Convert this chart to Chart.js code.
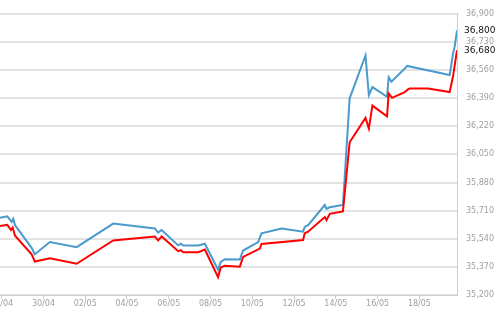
<!DOCTYPE html>
<html>
<head>
<meta charset="utf-8">
<script src="https://cdn.jsdelivr.net/npm/chart.js@4.4.1/dist/chart.umd.min.js"></script>
<style>
html,body{margin:0;padding:0;background:#fff;}
#wrap{width:500px;height:312px;}
</style>
</head>
<body>
<div id="wrap"><canvas id="c" width="500" height="312"></canvas></div>
<script>
// Day offsets counted from 28/04 (0 = 28/04 00:00)
const xTickDays = [0, 2, 4, 6, 8, 10, 12, 14, 16, 18, 20];
const xTickLabels = ['28/04', '30/04', '02/05', '04/05', '06/05', '08/05', '10/05', '12/05', '14/05', '16/05', '18/05'];
const yTickValues = [35200, 35370, 35540, 35710, 35880, 36050, 36220, 36390, 36560, 36730, 36900];

// Blue series (upper line)
const blueDays = [-0.08, 0.27, 0.48, 0.555, 0.64, 1.435, 1.59, 2.31, 3.59, 5.34, 7.335, 7.49, 7.66, 8.45, 8.58, 8.69, 9.41, 9.73, 10.36, 10.49, 10.68, 11.40, 11.56, 12.28, 12.44, 13.40, 14.43, 14.51, 14.67, 15.47, 15.55, 15.71, 16.34, 16.66, 17.42, 17.58, 17.75, 18.45, 18.53, 18.66, 19.30, 19.41, 21.45, 21.61, 21.69, 21.80];
const blueValues = [35667, 35676, 35642, 35661, 35622, 35485, 35446, 35520, 35489, 35632, 35602, 35577, 35593, 35500, 35510, 35499, 35499, 35510, 35353, 35400, 35416, 35414, 35469, 35520, 35573, 35602, 35583, 35612, 35622, 35744, 35720, 35730, 35744, 36389, 36648, 36408, 36457, 36398, 36516, 36490, 36569, 36585, 36530, 36660, 36703, 36800];

// Red series (lower line)
const redDays = [-0.08, 0.27, 0.445, 0.526, 0.64, 1.435, 1.59, 2.31, 3.59, 5.34, 7.335, 7.49, 7.66, 8.45, 8.58, 8.69, 9.41, 9.73, 10.36, 10.49, 10.68, 11.40, 11.56, 12.36, 12.44, 14.43, 14.51, 14.67, 15.47, 15.55, 15.71, 16.34, 16.66, 17.42, 17.58, 17.75, 18.45, 18.53, 18.69, 19.30, 19.45, 19.54, 20.41, 21.45, 21.61, 21.80];
const redValues = [35617, 35624, 35593, 35608, 35558, 35446, 35402, 35422, 35389, 35530, 35554, 35530, 35554, 35465, 35471, 35459, 35459, 35475, 35308, 35367, 35377, 35371, 35430, 35481, 35508, 35532, 35573, 35583, 35671, 35653, 35691, 35705, 36123, 36271, 36206, 36345, 36280, 36418, 36392, 36427, 36443, 36449, 36449, 36427, 36522, 36680];

const fmt = v => v.toLocaleString('en-US');

const lastValueLabels = {
  id: 'lastValueLabels',
  afterDraw(chart) {
    const ctx = chart.ctx;
    const ys = chart.scales.y;
    ctx.save();
    ctx.font = '9px "DejaVu Sans"';
    ctx.fillStyle = '#111';
    ctx.textAlign = 'left';
    ctx.textBaseline = 'middle';
    [redValues[redValues.length - 1], blueValues[blueValues.length - 1]].forEach(v => {
      const y = ys.getPixelForValue(v);
      ctx.clearRect(chart.chartArea.right + 4, y - 5, 40, 10);
      ctx.fillStyle = '#fff';
      ctx.fillRect(chart.chartArea.right + 4, y - 5, 40, 10);
      ctx.fillStyle = '#111';
      ctx.fillText(fmt(v), chart.chartArea.right + 7, y);
    });
    ctx.restore();
  }
};

const bg = {
  id: 'bg',
  beforeDraw(chart) {
    const ctx = chart.ctx;
    ctx.save();
    ctx.fillStyle = '#fff';
    ctx.fillRect(0, 0, chart.width, chart.height);
    ctx.restore();
  }
};

new Chart(document.getElementById('c'), {
  type: 'line',
  data: {
    datasets: [
      {
        label: 'red',
        data: redDays.map((d, i) => ({ x: d, y: redValues[i] })),
        borderColor: '#ff0000',
        borderWidth: 2,
        pointRadius: 0,
        tension: 0,
        fill: false
      },
      {
        label: 'blue',
        data: blueDays.map((d, i) => ({ x: d, y: blueValues[i] })),
        borderColor: '#4a9acd',
        borderWidth: 2,
        pointRadius: 0,
        tension: 0,
        fill: false
      }
    ]
  },
  options: {
    responsive: false,
    animation: false,
    devicePixelRatio: 1,
    layout: { padding: { top: 6, left: 0, right: 0, bottom: 0 } },
    plugins: { legend: { display: false }, tooltip: { enabled: false } },
    scales: {
      x: {
        type: 'linear',
        min: -0.08,
        max: 21.8,
        afterBuildTicks: axis => { axis.ticks = xTickDays.map(v => ({ value: v })); },
        afterFit: axis => { axis.height = 17; axis.paddingLeft = 0; axis.paddingRight = 0; },
        grid: { drawOnChartArea: false, drawTicks: true, tickLength: 4, color: '#cccccc' },
        border: { display: true, color: '#cccccc', width: 1 },
        ticks: {
          autoSkip: false,
          maxRotation: 0,
          padding: 0,
          color: '#a0a0a0',
          font: { family: 'DejaVu Sans', size: 8 },
          callback: (v) => { const i = xTickDays.indexOf(v); return i >= 0 ? xTickLabels[i] : ''; }
        }
      },
      y: {
        type: 'linear',
        position: 'right',
        min: 35200,
        max: 36900,
        afterBuildTicks: axis => { axis.ticks = yTickValues.map(v => ({ value: v })); },
        afterFit: axis => { axis.width = 43; },
        grid: { drawTicks: false, color: '#e3e3e3', lineWidth: 2 },
        border: { display: true, color: '#cccccc', width: 1 },
        ticks: {
          padding: 9,
          color: '#a0a0a0',
          font: { family: 'DejaVu Sans', size: 8 },
          callback: v => fmt(v)
        }
      }
    }
  },
  plugins: [bg, lastValueLabels]
});
</script>
</body>
</html>
